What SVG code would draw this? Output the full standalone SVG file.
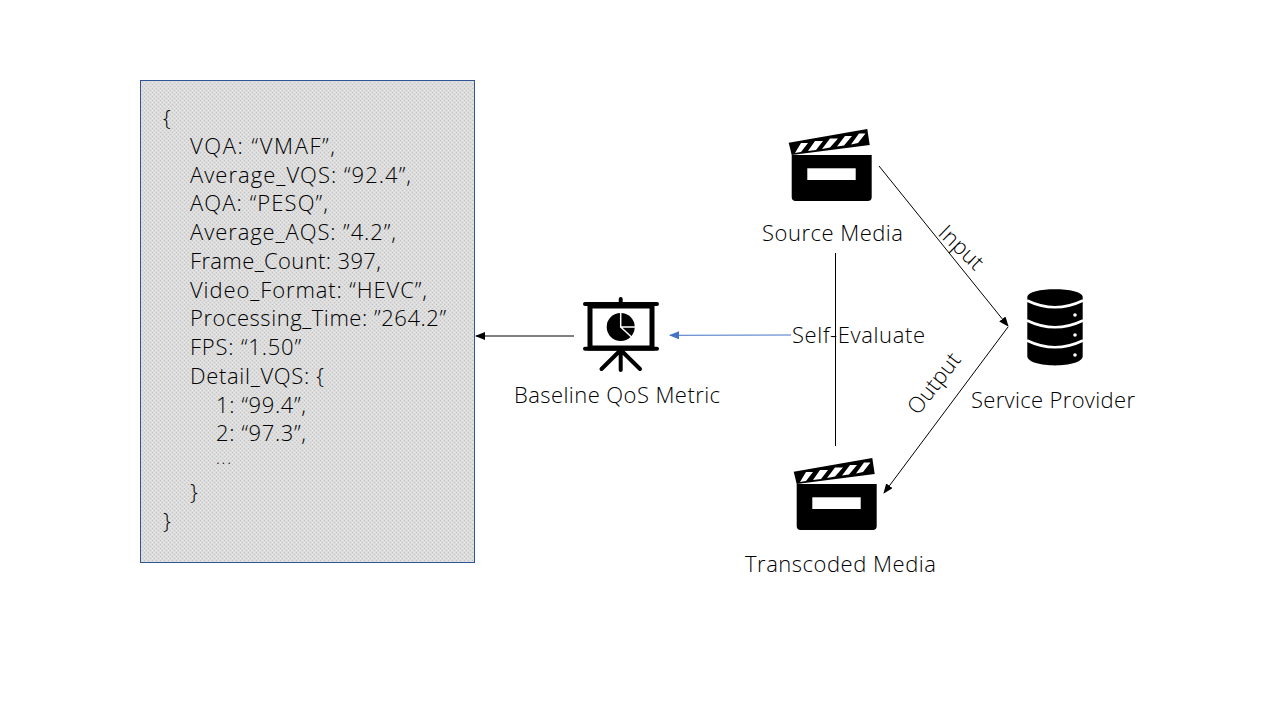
<svg xmlns="http://www.w3.org/2000/svg" width="1280" height="720" viewBox="0 0 1280 720">
<style>
text{font-family:"Open Sans","Noto Sans",sans-serif;font-weight:300;font-size:22px;fill:#000}
.l{stroke:#000;stroke-width:1;fill:none}
.w{stroke:#fff;stroke-width:2.700;fill:none}
</style>
<defs>
<pattern id="dots" width="4" height="4" patternUnits="userSpaceOnUse"><rect width="4" height="4" fill="#dcdcdc"/><rect width="1" height="1" fill="#c2c2c2"/><rect x="2" y="2" width="1" height="1" fill="#c6c6c6"/><rect x="2" y="0" width="1" height="1" fill="#e8e8e8"/><rect x="0" y="2" width="1" height="1" fill="#e8e8e8"/></pattern>
<marker id="ab" markerWidth="10" markerHeight="8" refX="9" refY="4" orient="auto" markerUnits="userSpaceOnUse"><path d="M0 0L10 4L0 8z" fill="#000"/></marker>
<marker id="ae" markerWidth="10" markerHeight="8" refX="9" refY="4" orient="auto" markerUnits="userSpaceOnUse"><path d="M0 0L10 4L0 8z" fill="#4472c4"/></marker>
<g id="clap">
<path d="M791.700 155H871.700V197a4 4 0 0 1-4 4H795.700a4 4 0 0 1-4-4z"/>
<path d="M788.700 142.700L867.300 129L869.700 145L791.700 155z"/>
<path d="M795 153L801 143H808L801 152zM808 151L815 141H823L816 150zM822 149L830 138.500H838L830 147.500zM837 146.500L845 136H852L844 145.500zM851 144.500L859 133.500H865.500L858 143z" fill="#fff"/>
<rect x="807.300" y="168.300" width="48.400" height="11.700" fill="#fff"/>
</g>
</defs>
<rect width="1280" height="720" fill="#fff"/>
<g id="connectors">
<path class="l" d="M879 166L1008 326" marker-end="url(#ab)"/>
<path class="l" d="M1008 327L884 493" marker-end="url(#ab)"/>
<path class="l" d="M835.500 253V446"/>
<path d="M791 335L670 335.300" stroke="#4472c4" fill="none" marker-end="url(#ae)"/>
<path class="l" d="M574 336H476" marker-end="url(#ab)"/>
</g>
<g id="json-box">
<rect x="140.500" y="80.500" width="334" height="482" fill="url(#dots)" stroke="#2f5597"/>
<text x="163" y="126">{</text>
<text x="190" y="154" textLength="145">VQA: “VMAF”,</text>
<text x="190" y="183" textLength="221">Average_VQS: “92.4”,</text>
<text x="190" y="211" textLength="138">AQA: “PESQ”,</text>
<text x="190" y="240" textLength="206">Average_AQS: ”4.2”,</text>
<text x="190" y="269" textLength="191">Frame_Count: 397,</text>
<text x="190" y="298" textLength="237">Video_Format: “HEVC”,</text>
<text x="190" y="326" textLength="256">Processing_Time: ”264.2”</text>
<text x="190" y="355" textLength="111">FPS: “1.50”</text>
<text x="190" y="384" textLength="134">Detail_VQS: {</text>
<text x="216" y="413" textLength="90">1: “99.4”,</text>
<text x="216" y="441" textLength="90">2: “97.3”,</text>
<text x="216" y="464" textLength="15" style="font-size:16px">...</text>
<text x="190" y="500">}</text>
<text x="163" y="529">}</text>
</g>
<g id="source-media">
<use href="#clap"/>
<text x="762" y="241" textLength="141">Source Media</text>
</g>
<g id="transcoded-media">
<use href="#clap" x="5" y="329"/>
<text x="745" y="572" textLength="191">Transcoded Media</text>
</g>
<g id="service-provider">
<path d="M1027.300 297C1027.300 286.500 1082.700 286.500 1082.700 297V356C1082.700 368.500 1027.300 368.500 1027.300 356z"/>
<path class="w" d="M1027 300.500Q1055 314 1083 300.500M1027 320.500Q1055 334 1083 320.500M1027 340.500Q1055 354 1083 340.500"/>
<circle cx="1075" cy="315" r="1.800" fill="#fff"/><circle cx="1075" cy="335" r="1.800" fill="#fff"/><circle cx="1075" cy="355" r="1.800" fill="#fff"/>
<text x="971" y="408" textLength="164">Service Provider</text>
</g>
<g id="baseline-metric">
<path d="M585 304H657M585 348.700H657M620.700 299V304M620.700 349V370M620.700 350L601.500 369M620.700 350L640 369" stroke="#000" stroke-width="4" stroke-linecap="round" fill="none"/>
<rect x="590" y="306" width="62" height="42" fill="#fff" stroke="#000" stroke-width="5"/>
<circle cx="620.700" cy="327" r="14"/>
<path d="M620.700 312V327H636M620.700 327L632 337.500" stroke="#fff" stroke-width="1.500" fill="none"/>
<text x="514" y="403" textLength="206">Baseline QoS Metric</text>
</g>
<g id="labels">
<text x="792" y="343" textLength="133">Self-Evaluate</text>
<text transform="translate(937 234.500) rotate(44)" textLength="53">Input</text>
<text transform="translate(918 416) rotate(-52)" textLength="71">Output</text>
</g>
</svg>
